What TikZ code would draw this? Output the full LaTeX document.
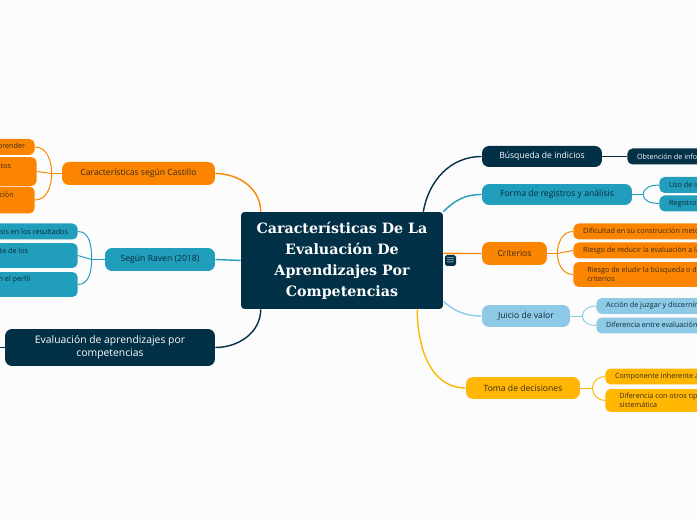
\documentclass[tikz,border=0pt]{standalone}
\usepackage{fontspec}
\setmainfont{Open Sans}
\newfontfamily\titlefont{DejaVu Serif}
\usepackage{tikz}
\usetikzlibrary{positioning}
\definecolor{mmNavy}{HTML}{023047}
\definecolor{mmOrange}{HTML}{FB8500}
\definecolor{mmTeal}{HTML}{219EBC}
\definecolor{mmSky}{HTML}{8ECAE6}
\definecolor{mmYellow}{HTML}{FFB703}
\definecolor{mmInk}{HTML}{3A2A1A}
\definecolor{mmTealInk}{HTML}{0B2A3A}
\tikzset{
  mmcenter/.style={
    rectangle, rounded corners=2pt, fill=mmNavy, text=white,
    minimum width=4.04cm, minimum height=1.94cm, align=center,
    font=\titlefont\bfseries\fontsize{8.1}{11.9}\selectfont
  },
  mmbranch/.style={
    rectangle, rounded corners=4pt, minimum height=0.46cm,
    inner xsep=2pt, inner ysep=1pt, align=center,
    font=\fontsize{4.9}{6.2}\selectfont
  },
  mmleaf/.style={
    rectangle, rounded corners=3pt, minimum height=0.32cm,
    inner xsep=5.5pt, inner ysep=1pt, align=left,
    font=\fontsize{4.1}{5.4}\selectfont
  },
  navybox/.style={fill=mmNavy,text=white},
  orangebox/.style={fill=mmOrange,text=mmInk},
  tealbox/.style={fill=mmTeal,text=mmTealInk},
  skybox/.style={fill=mmSky,text=mmTealInk},
  yellowbox/.style={fill=mmYellow,text=mmInk},
  mmedge/.style={line width=0.8pt},
  mmfork/.style={line width=0.55pt},
  mmnote/.style={rectangle, rounded corners=1pt, fill=mmNavy, text=white,
    minimum size=0.22cm, inner sep=0pt, font=\tiny}
}

\begin{document}
\begin{tikzpicture}[x=0.02cm,y=-0.02cm]
  \useasboundingbox (0,0) rectangle (697,520);
  \fill[white!99!black] (0,0) rectangle (697,520);
  \clip (0,0) rectangle (697,520);

  % central topic
  \node[mmcenter] (C) at (342,260.5)
    {Características De La\\Evaluación De\\Aprendizajes Por\\Competencias};
  \node[mmnote] (note) at (450.5,260.5) {$\equiv$};

  % left side
  \node[mmbranch,orangebox,minimum width=3.06cm] (cas) at (138.5,173.5) {Características según Castillo};
  \node[mmbranch,tealbox,minimum width=2.2cm] (rav) at (160,259.5) {Según Raven (2018)};
  \node[mmbranch,navybox,minimum width=4.2cm,minimum height=0.74cm,font=\fontsize{5.9}{7.6}\selectfont] (eva) at (110,347.5)
    {Evaluación de aprendizajes por\\competencias};
  \coordinate (evaout) at (-20,347.5);

  \node[mmleaf,orangebox,anchor=east] (cas1) at (35,147) {Aprender a aprender};
  \node[mmleaf,orangebox,anchor=east,minimum height=0.58cm] (cas2) at (37,171.5)
    {Movilización de conocimientos\hspace*{9pt}\\y recursos};
  \node[mmleaf,orangebox,anchor=east,minimum height=0.54cm] (cas3) at (35,200)
    {Integración y aplicación\hspace*{6.4pt}\\en contexto};

  \node[mmleaf,tealbox,anchor=east] (rav1) at (78,231.5) {Énfasis en los resultados};
  \node[mmleaf,tealbox,anchor=east,minimum height=0.5cm] (rav2) at (78,255.5)
    {Desempeño eficiente de los\hspace*{22.7pt}\\recursos};
  \node[mmleaf,tealbox,anchor=east,minimum height=0.5cm] (rav3) at (78,284.5)
    {Competencias definidas en el perfil\hspace*{21.5pt}\\profesional};

  % right side
  \node[mmbranch,navybox,minimum width=2.4cm,minimum height=0.42cm] (bus) at (542,156.5) {Búsqueda de indicios};
  \node[mmbranch,tealbox,minimum width=3.0cm,minimum height=0.42cm] (for) at (557,194.5) {Forma de registros y análisis};
  \node[mmbranch,orangebox,minimum width=1.3cm] (cri) at (514.5,253.5) {Criterios};
  \node[mmbranch,skybox,minimum width=1.76cm,minimum height=0.44cm] (jui) at (526,316) {Juicio de valor};
  \node[mmbranch,yellowbox,minimum width=2.28cm,minimum height=0.44cm] (tom) at (523,388) {Toma de decisiones};

  \node[mmleaf,navybox,anchor=west] (bus1) at (627,156.5) {Obtención de información};
  \node[mmleaf,tealbox,anchor=west] (for1) at (659,185) {Uso de instrumentos};
  \node[mmleaf,tealbox,anchor=west] (for2) at (659,203.5) {Registros sistemáticos};
  \node[mmleaf,orangebox,anchor=west] (cri1) at (573,231.5) {Dificultad en su construcción metodológica};
  \node[mmleaf,orangebox,anchor=west] (cri2) at (573,250.5) {Riesgo de reducir la evaluación a la medición};
  \node[mmleaf,orangebox,anchor=west,minimum height=0.5cm,inner xsep=8pt] (cri3) at (573,274.5)
    {Riesgo de eludir la búsqueda o definición de\\criterios};
  \node[mmleaf,skybox,anchor=west] (jui1) at (596,306) {Acción de juzgar y discernir};
  \node[mmleaf,skybox,anchor=west] (jui2) at (596,325.5) {Diferencia entre evaluación y medición};
  \node[mmleaf,yellowbox,anchor=west] (tom1) at (605,376.5) {Componente inherente a la evaluación};
  \node[mmleaf,yellowbox,anchor=west,minimum height=0.46cm,inner xsep=8pt] (tom2) at (605,400.5)
    {Diferencia con otros tipos de valoración no\\sistemática};

  % main connectors
  \draw[mmedge,mmOrange] (cas.east) to[out=0,in=90] (C.149);
  \draw[mmedge,mmTeal] (C.west) -- (rav.east);
  \draw[mmedge,mmNavy] (eva.east) to[out=0,in=-90] (C.211);
  \draw[mmedge,mmNavy] (eva.west) -- (evaout);
  \draw[mmedge,mmNavy] (C.31) to[out=80,in=180] (bus.west);
  \draw[mmedge,mmTeal] (C.north east) to[out=45,in=180] (for.west);
  \draw[mmedge,mmOrange] (C.4) -- (cri.west);
  \draw[mmedge,mmSky] (C.-22) to[out=-40,in=180] (jui.west);
  \draw[mmedge,mmYellow] (C.-33) to[out=-90,in=180] (tom.west);

  % forks to leaves
  \draw[mmfork,mmOrange] (cas.west) -- ++(-10,0) coordinate (casfork);
  \draw[mmfork,mmOrange] (cas1.east) to[out=0,in=90] (casfork);
  \draw[mmfork,mmOrange] (cas2.east) -- (casfork);
  \draw[mmfork,mmOrange] (cas3.east) to[out=0,in=-90] (casfork);

  \draw[mmfork,mmTeal] (rav.west) -- ++(-13,0) coordinate (ravfork);
  \draw[mmfork,mmTeal] (rav1.east) to[out=0,in=90] (ravfork);
  \draw[mmfork,mmTeal] (rav2.east) -- (ravfork);
  \draw[mmfork,mmTeal] (rav3.east) to[out=0,in=-90] (ravfork);

  \draw[mmfork,mmNavy] (bus.east) -- (bus1.west);

  \draw[mmfork,mmTeal] (for.east) -- ++(11,0) coordinate (forfork);
  \draw[mmfork,mmTeal] (forfork) to[out=90,in=180] (for1.west);
  \draw[mmfork,mmTeal] (forfork) to[out=-90,in=180] (for2.west);

  \draw[mmfork,mmOrange] (cri.east) -- ++(10,0) coordinate (crifork);
  \draw[mmfork,mmOrange] (crifork) to[out=90,in=180] (cri1.west);
  \draw[mmfork,mmOrange] (crifork) -- (cri2.west);
  \draw[mmfork,mmOrange] (crifork) to[out=-90,in=180] (cri3.west);

  \draw[mmfork,mmSky] (jui.east) -- ++(12,0) coordinate (juifork);
  \draw[mmfork,mmSky] (juifork) to[out=90,in=180] (jui1.west);
  \draw[mmfork,mmSky] (juifork) to[out=-90,in=180] (jui2.west);

  \draw[mmfork,mmYellow] (tom.east) -- ++(12,0) coordinate (tomfork);
  \draw[mmfork,mmYellow] (tomfork) to[out=90,in=180] (tom1.west);
  \draw[mmfork,mmYellow] (tomfork) to[out=-90,in=180] (tom2.west);
\end{tikzpicture}
\end{document}
